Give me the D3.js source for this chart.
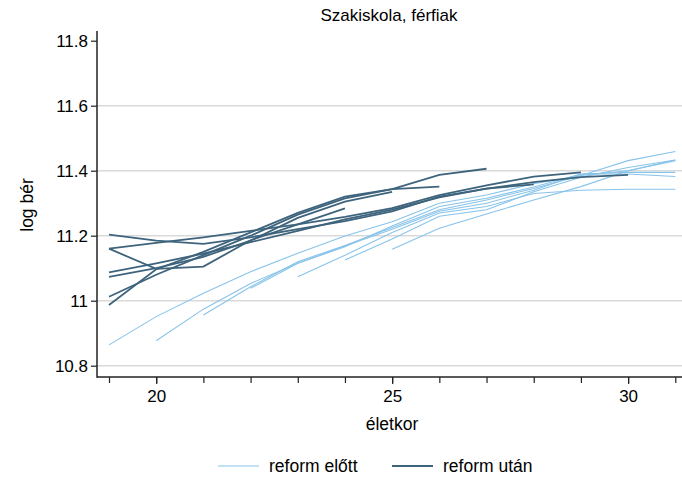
<!DOCTYPE html>
<html><head><meta charset="utf-8">
<script src="https://cdn.jsdelivr.net/npm/d3@7"></script>
<style>body{margin:0;background:#fff}svg{display:block}text{font-family:"Liberation Sans",Arial,Helvetica,sans-serif;fill:#000}</style>
</head><body>
<script>
const title = "Szakiskola, férfiak";
const xLabel = "életkor";
const yLabel = "log bér";
const seriesNames = ["reform előtt", "reform után"];
const xMajorTicks = [20, 25, 30];
const xMinorTicks = [19, 20, 21, 22, 23, 24, 25, 26, 27, 28, 29, 30, 31];
const yTicks = [10.8, 11, 11.2, 11.4, 11.6, 11.8];
const yTickLabels = ["10.8", "11", "11.2", "11.4", "11.6", "11.8"];
const yGrid = [10.8, 11, 11.2, 11.4, 11.6];

// reform előtt: cohorts (start age, values by consecutive age)
const beforeStart = [19, 20, 21, 22, 23, 24, 25];
const beforeValues = [
  [10.864, 10.951, 11.023, 11.089, 11.146, 11.199, 11.243, 11.30, 11.325, 11.36, 11.385, 11.431, 11.459],
  [10.877, 10.974, 11.053, 11.115, 11.166, 11.23, 11.29, 11.315, 11.35, 11.39, 11.395, 11.395],
  [10.956, 11.043, 11.12, 11.17, 11.225, 11.28, 11.31, 11.345, 11.385, 11.40, 11.431],
  [11.038, 11.115, 11.168, 11.22, 11.275, 11.30, 11.34, 11.39, 11.39, 11.382],
  [11.074, 11.14, 11.21, 11.27, 11.29, 11.33, 11.34, 11.343, 11.343],
  [11.125, 11.19, 11.26, 11.28, 11.335, 11.38, 11.41, 11.433],
  [11.158, 11.223, 11.267, 11.31, 11.351, 11.40, 11.433]
];
// reform után
const afterStart = [19, 19, 19, 19, 19, 19, 19];
const afterValues = [
  [11.203, 11.185, 11.175, 11.195, 11.22, 11.245, 11.275, 11.32, 11.345, 11.365, 11.38, 11.387],
  [11.16, 11.178, 11.195, 11.215, 11.235, 11.258, 11.285, 11.325, 11.355, 11.382, 11.395],
  [11.087, 11.115, 11.145, 11.18, 11.215, 11.25, 11.28, 11.318, 11.345, 11.358],
  [11.012, 11.08, 11.14, 11.20, 11.265, 11.315, 11.343, 11.387, 11.406],
  [10.987, 11.097, 11.15, 11.21, 11.27, 11.32, 11.343, 11.351],
  [11.073, 11.10, 11.135, 11.185, 11.255, 11.305, 11.335],
  [11.16, 11.098, 11.105, 11.186, 11.235, 11.284]
];

const W = 682, H = 479;
const colBefore = "#88c3ea", colAfter = "#3e647d";
const svg = d3.select("body").append("svg").attr("width", W).attr("height", H);

const x = d3.scaleLinear().domain([19, 31]).range([109, 675.3]);
const y = d3.scaleLinear().domain([10.8, 11.8]).range([365.7, 40.7]);
const plotL = 97, plotR = 682, plotT = 31, plotB = 377;

// gridlines
svg.append("g").selectAll("line").data(yGrid).join("line")
  .attr("x1", plotL).attr("x2", plotR)
  .attr("y1", d => y(d)).attr("y2", d => y(d))
  .attr("stroke", "#d9d9d9").attr("stroke-width", 1.4);

// lines
const line = d3.line().x(d => x(d[0])).y(d => y(d[1]));
function pts(start, vals) { return vals.map((v, i) => [start + i, v]); }
svg.append("g").selectAll("path").data(beforeValues).join("path")
  .attr("d", (v, i) => line(pts(beforeStart[i], v)))
  .attr("fill", "none").attr("stroke", colBefore).attr("stroke-width", 1.1);
svg.append("g").selectAll("path").data(afterValues).join("path")
  .attr("d", (v, i) => line(pts(afterStart[i], v)))
  .attr("fill", "none").attr("stroke", colAfter).attr("stroke-width", 1.8);

// axes
const yAxis = d3.axisLeft(y).tickValues(yTicks).tickFormat((d, i) => yTickLabels[i]).tickSize(6).tickPadding(3);
const gy = svg.append("g").attr("transform", `translate(${plotL},0)`).call(yAxis);
gy.select(".domain").remove();
gy.selectAll(".tick line").attr("stroke", "#222").attr("stroke-width", 1.2);
gy.selectAll(".tick text").style("font-size", "17px").attr("fill", "#000");
svg.append("line").attr("x1", plotL).attr("x2", plotL).attr("y1", plotT).attr("y2", plotB + 0.7)
  .attr("stroke", "#222").attr("stroke-width", 1.5);

const xMinor = d3.axisBottom(x).tickValues(xMinorTicks).tickFormat("").tickSize(6);
const gxm = svg.append("g").attr("transform", `translate(0,${plotB})`).call(xMinor);
gxm.select(".domain").remove();
gxm.selectAll(".tick line").attr("stroke", "#222").attr("stroke-width", 1.2);
const xAxis = d3.axisBottom(x).tickValues(xMajorTicks).tickFormat(d3.format("d")).tickSize(7).tickPadding(6);
const gx = svg.append("g").attr("transform", `translate(0,${plotB})`).call(xAxis);
gx.select(".domain").remove();
gx.selectAll(".tick line").attr("stroke", "#222").attr("stroke-width", 1.2);
gx.selectAll(".tick text").style("font-size", "17px").attr("fill", "#000");
svg.append("line").attr("x1", plotL).attr("x2", plotR).attr("y1", plotB).attr("y2", plotB)
  .attr("stroke", "#222").attr("stroke-width", 1.5);

// titles
svg.append("text").attr("x", 389).attr("y", 21).attr("text-anchor", "middle").style("font-size", "17px").text(title);
svg.append("text").attr("x", 392).attr("y", 430).attr("text-anchor", "middle").style("font-size", "17.5px").text(xLabel);
svg.append("text").attr("transform", "translate(33,205) rotate(-90)").attr("text-anchor", "middle").style("font-size", "17.5px").text(yLabel);

// legend
const leg = svg.append("g");
const legItems = [{x: 218, c: colBefore, w: 1.1}, {x: 392, c: colAfter, w: 1.8}];
legItems.forEach((it, i) => {
  leg.append("line").attr("x1", it.x).attr("x2", it.x + 41).attr("y1", 466).attr("y2", 466)
    .attr("stroke", it.c).attr("stroke-width", it.w);
  leg.append("text").attr("x", it.x + 51).attr("y", 472).style("font-size", "17.5px").text(seriesNames[i]);
});
</script>
</body></html>
